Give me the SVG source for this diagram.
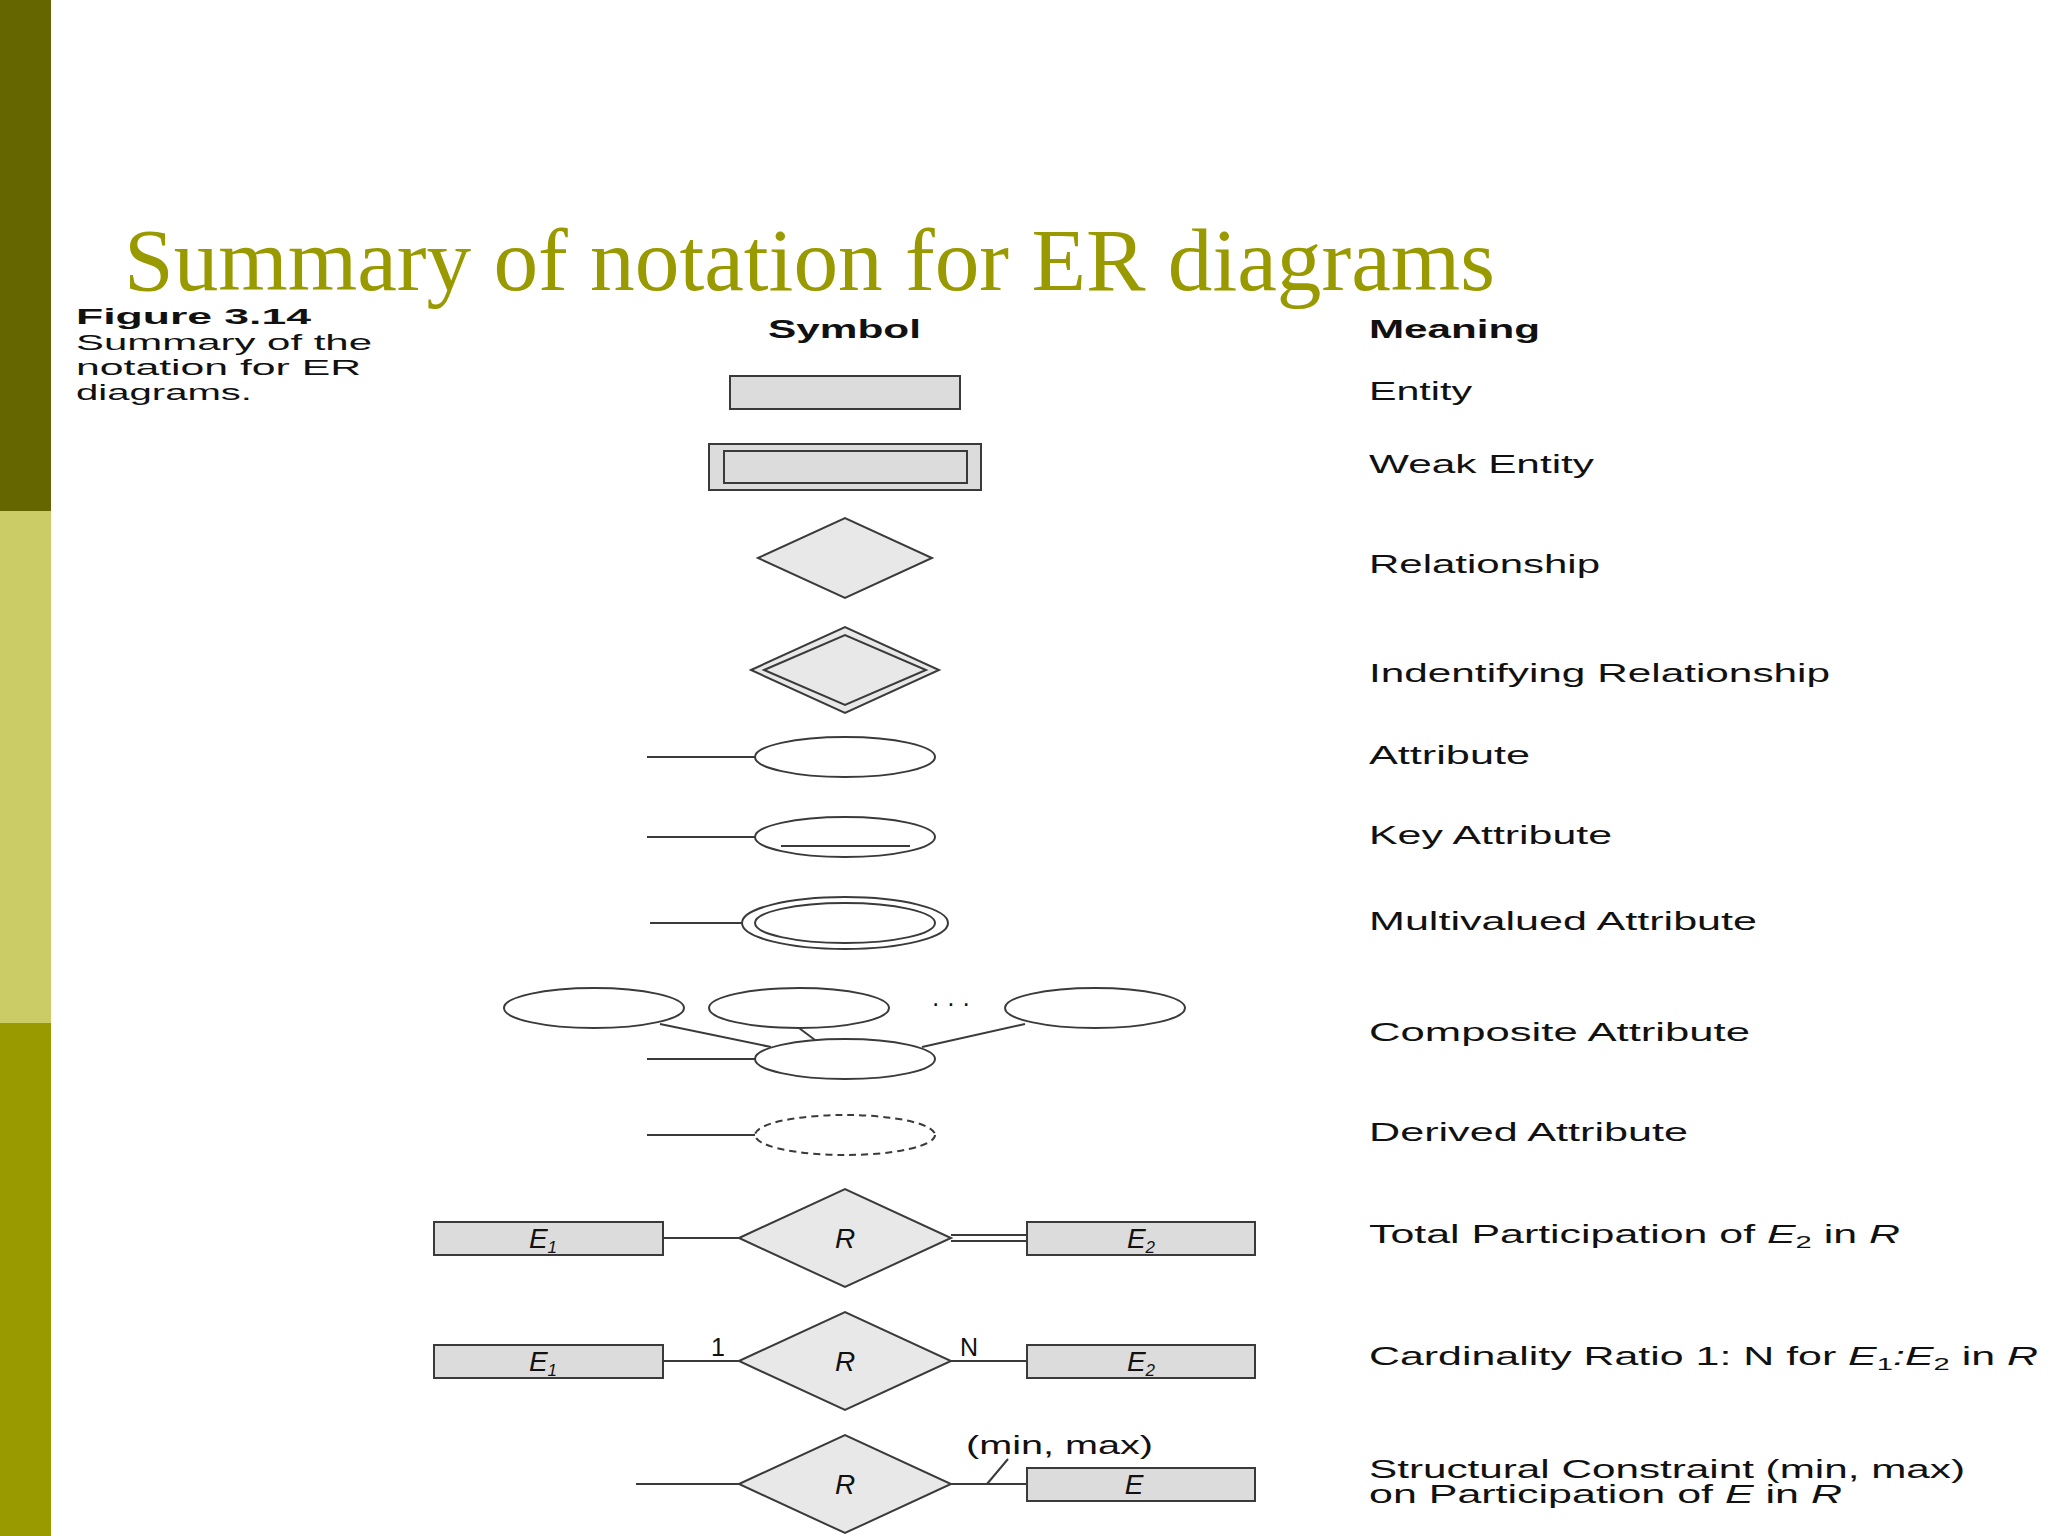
<svg xmlns="http://www.w3.org/2000/svg" width="2048" height="1536" viewBox="0 0 2048 1536">
<style>
.s{stroke:#3a3a3a;stroke-width:2;fill:none}
.r{stroke:#3a3a3a;stroke-width:2;fill:#dcdcdc}
.d{stroke:#3a3a3a;stroke-width:2;fill:#e8e8e8}
.e{stroke:#3a3a3a;stroke-width:2;fill:#fff}
.t{font-family:"Liberation Sans",Arial,sans-serif;font-size:25px;fill:#111}
.c{font-size:22px}
.l{font-size:28px}
.b{font-weight:bold}
.i{font-style:italic}
.sub{font-size:17px}
</style>
<rect x="0" y="0" width="2048" height="1536" fill="#fff"/>
<rect x="0" y="0" width="51" height="511" fill="#666600"/>
<rect x="0" y="511" width="51" height="512" fill="#cccc66"/>
<rect x="0" y="1023" width="51" height="513" fill="#999900"/>
<text x="124" y="290" font-family="'Liberation Serif',serif" font-size="88" fill="#999900" textLength="1371" lengthAdjust="spacingAndGlyphs">Summary of notation for ER diagrams</text>
<g id="caption">
<text class="t c b" x="76" y="324" textLength="235" lengthAdjust="spacingAndGlyphs">Figure 3.14</text>
<text class="t c" x="76" y="350" textLength="296" lengthAdjust="spacingAndGlyphs">Summary of the</text>
<text class="t c" x="76" y="375" textLength="285" lengthAdjust="spacingAndGlyphs">notation for ER</text>
<text class="t c" x="76" y="400" textLength="176" lengthAdjust="spacingAndGlyphs">diagrams.</text>
</g>
<text class="t b" x="768" y="338" textLength="153" lengthAdjust="spacingAndGlyphs">Symbol</text>
<text class="t b" x="1369" y="338" textLength="171" lengthAdjust="spacingAndGlyphs">Meaning</text>
<g id="meanings">
<text class="t" x="1369" y="400" textLength="103" lengthAdjust="spacingAndGlyphs">Entity</text>
<text class="t" x="1369" y="473" textLength="225" lengthAdjust="spacingAndGlyphs">Weak Entity</text>
<text class="t" x="1369" y="573" textLength="231" lengthAdjust="spacingAndGlyphs">Relationship</text>
<text class="t" x="1369" y="682" textLength="461" lengthAdjust="spacingAndGlyphs">Indentifying Relationship</text>
<text class="t" x="1369" y="764" textLength="161" lengthAdjust="spacingAndGlyphs">Attribute</text>
<text class="t" x="1369" y="844" textLength="243" lengthAdjust="spacingAndGlyphs">Key Attribute</text>
<text class="t" x="1369" y="930" textLength="388" lengthAdjust="spacingAndGlyphs">Multivalued Attribute</text>
<text class="t" x="1369" y="1041" textLength="381" lengthAdjust="spacingAndGlyphs">Composite Attribute</text>
<text class="t" x="1369" y="1141" textLength="319" lengthAdjust="spacingAndGlyphs">Derived Attribute</text>
<text class="t" x="1369" y="1243" textLength="531" lengthAdjust="spacingAndGlyphs">Total Participation of <tspan class="i">E</tspan><tspan class="sub" dy="5">2</tspan><tspan dy="-5"> in </tspan><tspan class="i">R</tspan></text>
<text class="t" x="1369" y="1365" textLength="669" lengthAdjust="spacingAndGlyphs">Cardinality Ratio 1: N for <tspan class="i">E</tspan><tspan class="sub" dy="5">1</tspan><tspan dy="-5" class="i">:E</tspan><tspan class="sub" dy="5">2</tspan><tspan dy="-5"> in </tspan><tspan class="i">R</tspan></text>
<text class="t" x="1369" y="1478" textLength="596" lengthAdjust="spacingAndGlyphs">Structural Constraint (min, max)</text>
<text class="t" x="1369" y="1503" textLength="473" lengthAdjust="spacingAndGlyphs">on Participation of <tspan class="i">E</tspan> in <tspan class="i">R</tspan></text>
</g>
<g id="entity"><rect class="r" x="730" y="376" width="230" height="33"/></g>
<g id="weak-entity"><rect class="r" x="709" y="444" width="272" height="46"/><rect class="r" x="724" y="451" width="243" height="32"/></g>
<g id="relationship"><polygon class="d" points="758,558 845,518 932,558 845,598"/></g>
<g id="identifying"><polygon class="d" points="751,670 845,627 939,670 845,713"/><polygon class="d" points="764,670 845,635 926,670 845,705"/></g>
<g id="attribute"><ellipse class="e" cx="845" cy="757" rx="90" ry="20"/></g>
<g id="key-attribute"><ellipse class="e" cx="845" cy="837" rx="90" ry="20"/><line class="s" x1="781" y1="846" x2="910" y2="846"/></g>
<g id="multivalued"><ellipse class="e" cx="845" cy="923" rx="103" ry="26"/><ellipse class="e" cx="845" cy="923" rx="90" ry="20"/></g>
<g id="composite">
<ellipse class="e" cx="594" cy="1008" rx="90" ry="20"/>
<ellipse class="e" cx="799" cy="1008" rx="90" ry="20"/>
<ellipse class="e" cx="1095" cy="1008" rx="90" ry="20"/>
<text class="t" x="951" y="1012" text-anchor="middle">· · ·</text>
<ellipse class="e" cx="845" cy="1059" rx="90" ry="20"/>
</g>
<g id="derived"><ellipse class="e" cx="845" cy="1135" rx="90" ry="20" stroke-dasharray="7,5"/></g>
<g id="total">
<rect class="r" x="434" y="1222" width="229" height="33"/><text class="t l i" x="543" y="1248" text-anchor="middle">E<tspan class="sub" dy="5">1</tspan></text>
<polygon class="d" points="739,1238 845,1189 951,1238 845,1287"/><text class="t l i" x="845" y="1248" text-anchor="middle">R</text>
<rect class="r" x="1027" y="1222" width="228" height="33"/><text class="t l i" x="1141" y="1248" text-anchor="middle">E<tspan class="sub" dy="5">2</tspan></text>
</g>
<g id="cardinality">
<rect class="r" x="434" y="1345" width="229" height="33"/><text class="t l i" x="543" y="1371" text-anchor="middle">E<tspan class="sub" dy="5">1</tspan></text>
<polygon class="d" points="739,1361 845,1312 951,1361 845,1410"/><text class="t l i" x="845" y="1371" text-anchor="middle">R</text>
<rect class="r" x="1027" y="1345" width="228" height="33"/><text class="t l i" x="1141" y="1371" text-anchor="middle">E<tspan class="sub" dy="5">2</tspan></text>
<text class="t" x="718" y="1356" text-anchor="middle">1</text>
<text class="t" x="969" y="1356" text-anchor="middle">N</text>
</g>
<g id="structural">
<polygon class="d" points="739,1484 845,1435 951,1484 845,1533"/><text class="t l i" x="845" y="1494" text-anchor="middle">R</text>
<rect class="r" x="1027" y="1468" width="228" height="33"/><text class="t l i" x="1134" y="1494" text-anchor="middle">E</text>
<text class="t" x="966" y="1454" textLength="187" lengthAdjust="spacingAndGlyphs">(min, max)</text>
</g>
<g id="connectors">
<line class="s" x1="647" y1="757" x2="755" y2="757"/>
<line class="s" x1="647" y1="837" x2="755" y2="837"/>
<line class="s" x1="650" y1="923" x2="742" y2="923"/>
<line class="s" x1="647" y1="1059" x2="755" y2="1059"/>
<line class="s" x1="660" y1="1024" x2="771" y2="1047"/>
<line class="s" x1="799" y1="1028" x2="815" y2="1040"/>
<line class="s" x1="1025" y1="1024" x2="922" y2="1047"/>
<line class="s" x1="647" y1="1135" x2="755" y2="1135"/>
<line class="s" x1="663" y1="1238" x2="739" y2="1238"/>
<line class="s" x1="951" y1="1235" x2="1027" y2="1235"/>
<line class="s" x1="951" y1="1241" x2="1027" y2="1241"/>
<line class="s" x1="663" y1="1361" x2="739" y2="1361"/>
<line class="s" x1="951" y1="1361" x2="1027" y2="1361"/>
<line class="s" x1="636" y1="1484" x2="739" y2="1484"/>
<line class="s" x1="951" y1="1484" x2="1027" y2="1484"/>
<line class="s" x1="987" y1="1484" x2="1008" y2="1459"/>
</g>
</svg>
